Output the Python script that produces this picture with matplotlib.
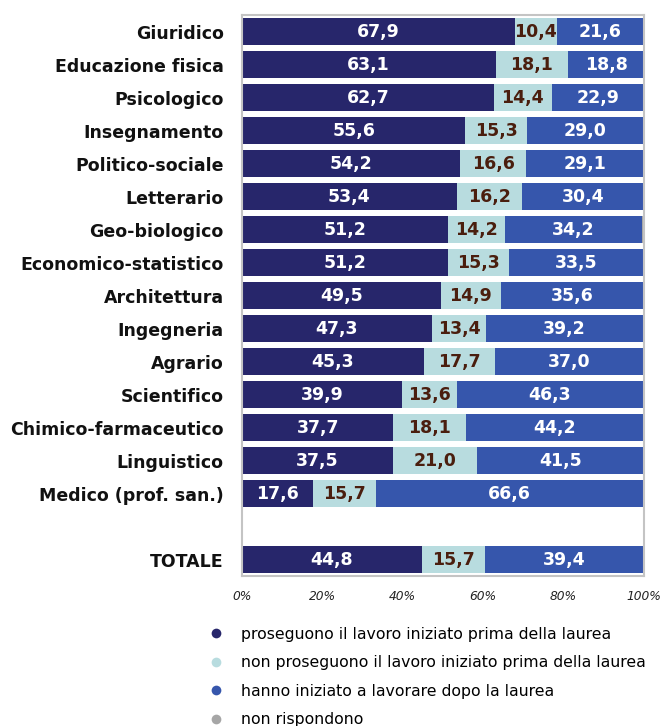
import matplotlib
matplotlib.use("Agg")
import matplotlib.pyplot as plt
from matplotlib.lines import Line2D
import numpy as np

categories = ["Giuridico", "Educazione fisica", "Psicologico", "Insegnamento",
              "Politico-sociale", "Letterario", "Geo-biologico",
              "Economico-statistico", "Architettura", "Ingegneria", "Agrario",
              "Scientifico", "Chimico-farmaceutico", "Linguistico",
              "Medico (prof. san.)", "", "TOTALE"]
proseguono = [67.9, 63.1, 62.7, 55.6, 54.2, 53.4, 51.2, 51.2, 49.5, 47.3, 45.3,
              39.9, 37.7, 37.5, 17.6, None, 44.8]
non_proseguono = [10.4, 18.1, 14.4, 15.3, 16.6, 16.2, 14.2, 15.3, 14.9, 13.4, 17.7,
                  13.6, 18.1, 21.0, 15.7, None, 15.7]
dopo_laurea = [21.6, 18.8, 22.9, 29.0, 29.1, 30.4, 34.2, 33.5, 35.6, 39.2, 37.0,
               46.3, 44.2, 41.5, 66.6, None, 39.4]
non_rispondono = [0.1, 0.0, 0.0, 0.1, 0.1, 0.0, 0.4, 0.0, 0.0, 0.1, 0.0,
                  0.2, 0.0, 0.0, 0.1, None, 0.1]
series_labels = ["proseguono il lavoro iniziato prima della laurea",
                 "non proseguono il lavoro iniziato prima della laurea",
                 "hanno iniziato a lavorare dopo la laurea",
                 "non rispondono"]
xticks = [0, 20, 40, 60, 80, 100]

colors = ["#27266b", "#b8dcdf", "#3656ac", "#a6a6a6"]
text_colors = ["white", "#4a1e0e", "white", None]

fig = plt.figure(figsize=(6.61, 7.26), dpi=100)
ax = fig.add_axes([0.366, 0.2066, 0.608, 0.7727])

series = [proseguono, non_proseguono, dopo_laurea, non_rispondono]
y = np.arange(len(categories))
left = np.zeros(len(categories))
for s_i, s in enumerate(series):
    vals = np.array([v if v is not None else 0 for v in s])
    ax.barh(y, vals, left=left, height=0.79, color=colors[s_i], edgecolor="none")
    if text_colors[s_i] is not None:
        for i, v in enumerate(s):
            if v is None:
                continue
            ax.text(left[i] + v / 2, y[i], f"{v:.1f}".replace(".", ","),
                    ha="center", va="center", color=text_colors[s_i],
                    fontsize=12.5, fontweight="bold")
    left = left + vals

ax.set_xlim(0, 100)
ax.set_ylim(len(categories) - 0.5, -0.5)
ax.set_yticks(y)
ax.set_yticklabels(categories, fontsize=12.5, fontweight="bold", color="#111111")
ax.set_xticks(xticks)
ax.set_xticklabels([f"{t}%" for t in xticks], fontsize=8.8, style="italic", color="#222222")
ax.tick_params(axis="y", length=0, pad=13)
ax.tick_params(axis="x", length=0, pad=10)
for sp in ax.spines.values():
    sp.set_color("#c4c4c4")
    sp.set_linewidth(1.5)

handles = [Line2D([0], [0], marker="o", linestyle="none", markersize=7,
                  markerfacecolor=c, markeredgecolor="none") for c in colors]
fig.legend(handles, series_labels, loc="upper left", bbox_to_anchor=(0.303, 0.137),
           frameon=False, fontsize=11.3, handletextpad=0.6, labelspacing=0.86,
           borderaxespad=0, borderpad=0)

fig.savefig("out.png", dpi=100)
